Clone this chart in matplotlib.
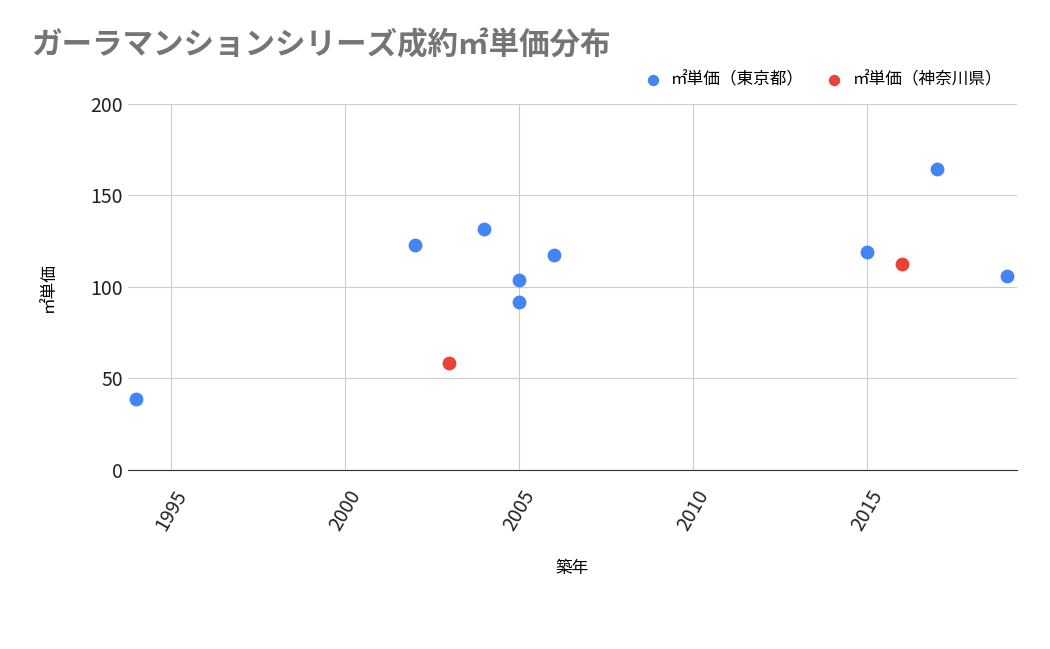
import matplotlib
matplotlib.use("Agg")
import matplotlib.pyplot as plt

plt.rcParams['font.family'] = ['Noto Sans CJK JP', 'DejaVu Sans']

# データ
tokyo_year = [1994, 2002, 2004, 2005, 2005, 2006, 2015, 2017, 2019]
tokyo_price = [38.5, 123, 131.5, 104, 91.5, 117.5, 119, 164.5, 106]
kanagawa_year = [2003, 2016]
kanagawa_price = [58.5, 112.5]

fig = plt.figure(figsize=(10.5, 6.49), dpi=100)
ax = fig.add_axes([0.122, 0.276, 0.8466, 0.564])

ax.scatter(tokyo_year, tokyo_price, s=80, color='#4285f4', label='㎡単価（東京都）', zorder=3)
ax.scatter(kanagawa_year, kanagawa_price, s=80, color='#ea4335', label='㎡単価（神奈川県）', zorder=3)

ax.set_xlim(1993.77, 2019.3)
ax.set_ylim(0, 200)
ax.set_xticks([1995, 2000, 2005, 2010, 2015])
ax.set_yticks([0, 50, 100, 150, 200])
ax.grid(True, color='#cccccc', linewidth=0.8)
ax.set_axisbelow(True)
for s in ['top', 'right', 'left']:
    ax.spines[s].set_visible(False)
ax.spines['bottom'].set_color('#333333')
ax.tick_params(length=0, labelsize=14, colors='#222222')
plt.setp(ax.get_xticklabels(), rotation=60, ha='center', va='top')
ax.tick_params(axis='x', pad=12)

ax.set_xlabel('築年', fontsize=12, labelpad=18)
ax.set_ylabel('㎡単価', fontsize=12, labelpad=24)

fig.text(0.03, 0.93, 'ガーラマンションシリーズ成約㎡単価分布', fontsize=22,
         fontweight='bold', color='#757575', va='center')
ax.legend(loc='lower right', bbox_to_anchor=(1.0, 1.0), ncol=2, frameon=False,
          fontsize=12, handletextpad=0.1, columnspacing=0.8, markerscale=0.8)

fig.savefig('out.png', dpi=100)
